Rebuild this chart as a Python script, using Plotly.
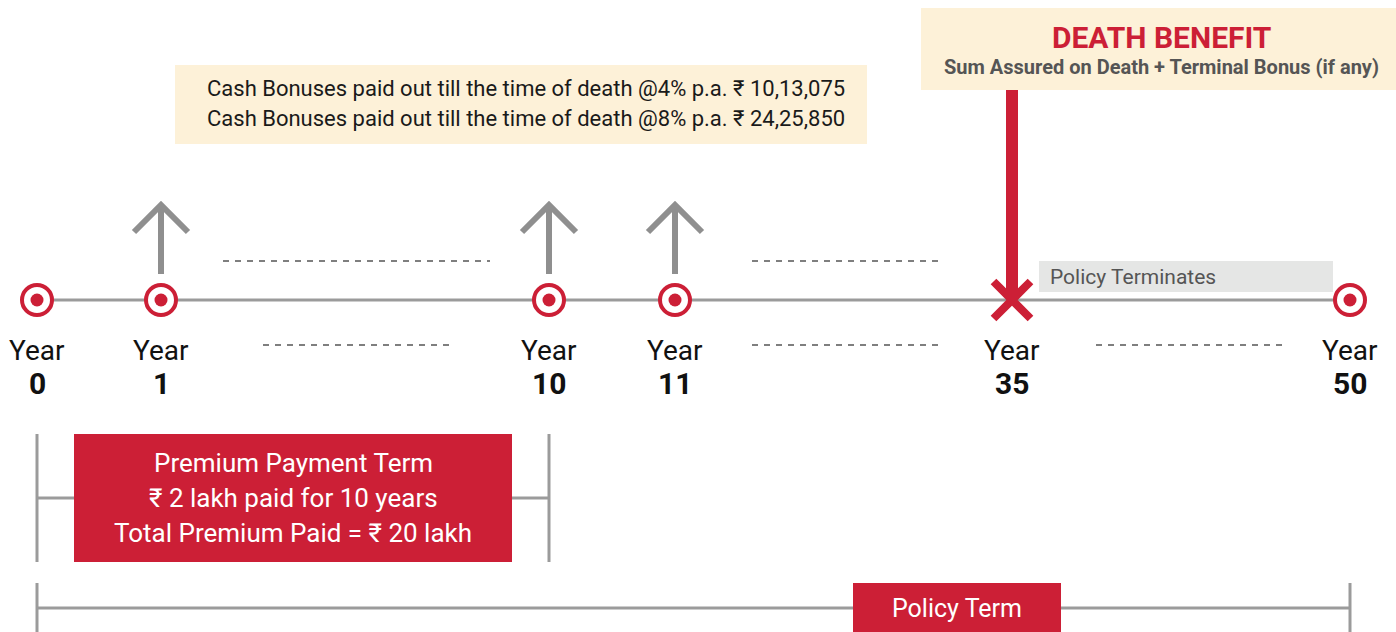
import plotly.graph_objects as go

# ---------------- data ----------------
years = [0, 1, 10, 11, 35, 50]
bonus_years = [1, 10, 11]
death_year = 35
premium_term = (0, 10)
policy_term = (0, 50)
bonus_lines = [
    "Cash Bonuses paid out till the time of death @4% p.a. ₹ 10,13,075",
    "Cash Bonuses paid out till the time of death @8% p.a. ₹ 24,25,850",
]
death_title = "DEATH BENEFIT"
death_sub = "Sum Assured on Death + Terminal Bonus (if any)"
terminate_label = "Policy Terminates"
premium_lines = ["Premium Payment Term", "₹ 2 lakh paid for 10 years", "Total Premium Paid = ₹ 20 lakh"]
policy_label = "Policy Term"
upper_gaps = [(1, 10), (11, 35)]
lower_gaps = [(1, 10), (11, 35), (35, 50)]

# ---------------- layout constants (schematic, not to scale) ----------------
SLOT_X = {0: 37, 1: 161, 10: 549, 11: 675, 35: 1012, 50: 1350}
LINE_Y = 300
RED = "#cc1f36"
GREY = "#9b9b9b"
ARROW = "#8f8f8f"
CREAM = "#fdf1d8"
FONT = "Roboto, 'Noto Sans', sans-serif"

W, H = 1396, 632
fig = go.Figure()
shapes = []
ann = []

def X(y):
    return SLOT_X[y]

# main timeline
shapes.append(dict(type="line", x0=X(years[0]), x1=X(years[-1]), y0=LINE_Y, y1=LINE_Y,
                   line=dict(color=GREY, width=3), layer="below"))

# bonus arrows
for by in bonus_years:
    cx = X(by)
    shapes.append(dict(type="line", x0=cx, x1=cx, y0=274, y1=206, line=dict(color=ARROW, width=6)))
    shapes.append(dict(type="path", path=f"M{cx-27},{232} L{cx},{205} L{cx+27},{232}",
                       line=dict(color=ARROW, width=6)))

# dashed gap lines
def dash_between(a, b, y, pad_l, pad_r):
    shapes.append(dict(type="line", x0=X(a) + pad_l, x1=X(b) - pad_r, y0=y, y1=y,
                       line=dict(color="#555555", width=1.5, dash="6px,6px")))

dash_between(*upper_gaps[0], 261, 62, 59)
dash_between(*upper_gaps[1], 261, 77, 72)
dash_between(*lower_gaps[0], 345, 102, 97)
dash_between(*lower_gaps[1], 345, 77, 72)
dash_between(*lower_gaps[2], 345, 84, 68)

# cash bonus box
shapes.append(dict(type="rect", x0=175, x1=867, y0=65, y1=144, fillcolor=CREAM, line=dict(width=0), layer="below"))
for i, t in enumerate(bonus_lines):
    ann.append(dict(x=205, y=88 + 30 * i, text=t, xanchor="left", yanchor="middle", showarrow=False,
                    font=dict(family=FONT, size=22, color="#1a1a1a")))

# death benefit box + red drop line
dx = X(death_year)
shapes.append(dict(type="rect", x0=921, x1=W, y0=8, y1=90, fillcolor=CREAM, line=dict(width=0), layer="below"))
shapes.append(dict(type="line", x0=dx, x1=dx, y0=90, y1=296, line=dict(color=RED, width=12)))
ann.append(dict(x=1161, y=37, text=f"<b>{death_title}</b>", showarrow=False, yanchor="middle",
                font=dict(family=FONT, size=30, color=RED)))
ann.append(dict(x=1161, y=67, text=f"<b>{death_sub}</b>", showarrow=False, yanchor="middle",
                font=dict(family=FONT, size=20, color="#555555")))

# policy terminates box
shapes.append(dict(type="rect", x0=1039, x1=1333, y0=261, y1=292, fillcolor="#e5e6e5", line=dict(width=0), layer="below"))
ann.append(dict(x=1048, y=277, text=terminate_label, xanchor="left", yanchor="middle", showarrow=False,
                font=dict(family=FONT, size=21, color="#555555")))

# year markers
ring_years = [y for y in years if y != death_year]
fig.add_trace(go.Scatter(x=[X(y) for y in ring_years], y=[LINE_Y] * len(ring_years), mode="markers",
                         marker=dict(symbol="circle", size=30, color="white", line=dict(color=RED, width=4)),
                         hoverinfo="skip", showlegend=False))
fig.add_trace(go.Scatter(x=[X(y) for y in ring_years], y=[LINE_Y] * len(ring_years), mode="markers",
                         marker=dict(symbol="circle", size=13, color=RED, line=dict(width=0)),
                         hoverinfo="skip", showlegend=False))
fig.add_trace(go.Scatter(x=[dx], y=[LINE_Y], mode="markers",
                         marker=dict(symbol="x-thin", size=37, color=RED, line=dict(color=RED, width=8)),
                         hoverinfo="skip", showlegend=False))

# year labels
for y in years:
    ann.append(dict(x=X(y), y=350, text="Year", showarrow=False, yanchor="middle",
                    font=dict(family=FONT, size=28, color="#111111")))
    ann.append(dict(x=X(y), y=383, text=f"<b>{y}</b>", showarrow=False, yanchor="middle",
                    font=dict(family=FONT, size=30, color="#111111")))

# premium payment term bracket
p0, p1 = X(premium_term[0]), X(premium_term[1])
for px in (p0, p1):
    shapes.append(dict(type="line", x0=px, x1=px, y0=434, y1=562, line=dict(color=GREY, width=3), layer="below"))
shapes.append(dict(type="line", x0=p0, x1=p1, y0=498, y1=498, line=dict(color=GREY, width=3), layer="below"))
shapes.append(dict(type="rect", x0=74, x1=512, y0=434, y1=562, fillcolor=RED, line=dict(width=0)))
for i, t in enumerate(premium_lines):
    ann.append(dict(x=(74 + 512) / 2, y=463 + 35 * i, text=t, showarrow=False, yanchor="middle",
                    font=dict(family=FONT, size=26, color="white")))

# policy term bracket
q0, q1 = X(policy_term[0]), X(policy_term[1])
for qx in (q0, q1):
    shapes.append(dict(type="line", x0=qx, x1=qx, y0=583, y1=H, line=dict(color=GREY, width=3), layer="below"))
shapes.append(dict(type="line", x0=q0, x1=q1, y0=608, y1=608, line=dict(color=GREY, width=3), layer="below"))
shapes.append(dict(type="rect", x0=853, x1=1061, y0=583, y1=H, fillcolor=RED, line=dict(width=0)))
ann.append(dict(x=957, y=608, text=policy_label, showarrow=False, yanchor="middle",
                font=dict(family=FONT, size=25, color="white")))

fig.update_layout(
    width=W, height=H, margin=dict(l=0, r=0, t=0, b=0),
    paper_bgcolor="white", plot_bgcolor="white",
    xaxis=dict(range=[0, W], visible=False, fixedrange=True),
    yaxis=dict(range=[H, 0], visible=False, fixedrange=True),
    shapes=shapes, annotations=ann, showlegend=False,
)
fig.write_html("out.html", config={"displayModeBar": False},
               post_script="document.body.style.margin='0';document.body.style.overflow='hidden';")
